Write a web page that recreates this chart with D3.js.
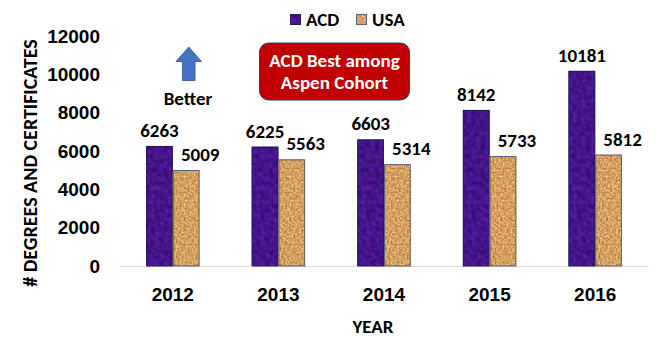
<!DOCTYPE html>
<html>
<head>
<meta charset="utf-8">
<script src="https://cdn.jsdelivr.net/npm/d3@7"></script>
<style>
  body { margin: 0; background: #fff; }
  svg { display: block; font-family: Carlito, "Open Sans", sans-serif; font-weight: 700; }
</style>
</head>
<body>
<svg id="chart"></svg>
<script>
// data
const years = ["2012", "2013", "2014", "2015", "2016"];
const seriesNames = ["ACD", "USA"];
const acd = [6263, 6225, 6603, 8142, 10181];
const usa = [5009, 5563, 5314, 5733, 5812];
const yTicks = [0, 2000, 4000, 6000, 8000, 10000, 12000];

const width = 662, height = 337;
const fontSize = 19;

const svg = d3.select("#chart")
  .attr("width", width)
  .attr("height", height);

// textures for the bars (purple fabric and cork)
const defs = svg.append("defs");
function texture(id, freq, rows) {
  const f = defs.append("filter")
    .attr("id", id)
    .attr("x", 0).attr("y", 0).attr("width", 1).attr("height", 1)
    .attr("color-interpolation-filters", "sRGB");
  f.append("feTurbulence")
    .attr("type", "fractalNoise")
    .attr("baseFrequency", freq)
    .attr("numOctaves", 3)
    .attr("seed", 3)
    .attr("result", "noise");
  f.append("feColorMatrix")
    .attr("in", "noise")
    .attr("type", "matrix")
    .attr("values", rows)
    .attr("result", "col");
  f.append("feComposite")
    .attr("in", "col")
    .attr("in2", "SourceGraphic")
    .attr("operator", "in");
}
texture("tex-acd", 0.22,
  "0.28 0 0 0 0.13  0.1 0 0 0 0.03  0.36 0 0 0 0.36  0 0 0 0 1");
texture("tex-usa", 0.5,
  "0.55 0 0 0 0.56  0.6 0 0 0 0.33  0.5 0 0 0 0.13  0 0 0 0 1");

const fills = { ACD: "url(#tex-acd)", USA: "url(#tex-usa)" };
const strokes = { ACD: "#1c1f5c", USA: "#59607c" };

// scales
const x = d3.scaleBand()
  .domain(years)
  .range([120, 648])
  .paddingInner(0.494)
  .paddingOuter(0.247);

const xs = d3.scaleBand()
  .domain(seriesNames)
  .range([0, x.bandwidth()]);

const y = d3.scaleLinear()
  .domain([0, 12000])
  .range([266, 36]);

// y axis (labels only)
const yAxis = svg.append("g")
  .attr("transform", "translate(120,0)")
  .call(d3.axisLeft(y).tickValues(yTicks).tickSize(0).tickPadding(20).tickFormat(d3.format("d")));
yAxis.select(".domain").remove();
yAxis.selectAll("text")
  .attr("font-size", fontSize)
  .attr("font-family", null)
  .attr("fill", "#000");

// x axis with light baseline
const xAxis = svg.append("g")
  .attr("transform", "translate(0,266)")
  .call(d3.axisBottom(x).tickSize(0).tickSizeOuter(0).tickPadding(22));
xAxis.select(".domain").attr("stroke", "#d9d9d9");
xAxis.selectAll("text")
  .attr("font-size", fontSize)
  .attr("font-family", null)
  .attr("fill", "#000");

// bars
const rows = years.map((yr, i) => ({ year: yr, ACD: acd[i], USA: usa[i] }));

const groups = svg.append("g")
  .selectAll("g")
  .data(rows)
  .join("g")
  .attr("transform", d => `translate(${x(d.year)},0)`);

seriesNames.forEach(s => {
  groups.append("rect")
    .attr("x", xs(s))
    .attr("y", d => y(d[s]))
    .attr("width", xs.bandwidth())
    .attr("height", d => y(0) - y(d[s]))
    .attr("fill", "#000")
    .attr("filter", fills[s]);
  groups.append("rect")
    .attr("x", xs(s) + 0.5)
    .attr("y", d => y(d[s]) + 0.5)
    .attr("width", xs.bandwidth() - 1)
    .attr("height", d => y(0) - y(d[s]) - 0.5)
    .attr("fill", "none")
    .attr("stroke", strokes[s])
    .attr("stroke-width", 1);
  // value labels (USA ones sit a little to the right in the original)
  groups.append("text")
    .attr("x", xs(s) + xs.bandwidth() / 2 + (s === "USA" ? 14 : 0))
    .attr("y", d => y(d[s]) - 9)
    .attr("text-anchor", "middle")
    .attr("font-size", fontSize)
    .text(d => d[s]);
});

// legend
const legend = svg.append("g").attr("transform", "translate(290,14)");
const legendX = { ACD: 0, USA: 66 };
seriesNames.forEach(s => {
  const g = legend.append("g").attr("transform", `translate(${legendX[s]},0)`);
  g.append("rect").attr("width", 11).attr("height", 11).attr("fill", "#000").attr("filter", fills[s]);
  g.append("rect").attr("x", 0.5).attr("y", 0.5).attr("width", 10).attr("height", 10)
    .attr("fill", "none").attr("stroke", strokes[s]);
  g.append("text").attr("x", 16).attr("y", 12).attr("font-size", fontSize).text(s);
});

// axis titles
svg.append("text")
  .attr("transform", "translate(36.5,163) rotate(-90)")
  .attr("text-anchor", "middle")
  .attr("font-size", 20)
  .text("# DEGREES AND CERTIFICATES");

svg.append("text")
  .attr("x", 373)
  .attr("y", 333)
  .attr("text-anchor", "middle")
  .attr("font-size", fontSize)
  .text("YEAR");

// "Better" arrow
svg.append("path")
  .attr("d", "M188.8,47 L201.5,61.5 L195,61.5 L195,80.5 L182.5,80.5 L182.5,61.5 L176,61.5 Z")
  .attr("fill", "#4472c4")
  .attr("stroke", "#2f528f")
  .attr("stroke-width", 0.8);
svg.append("text")
  .attr("x", 188)
  .attr("y", 105)
  .attr("text-anchor", "middle")
  .attr("font-size", fontSize)
  .text("Better");

// callout box
svg.append("rect")
  .attr("x", 259.5).attr("y", 43)
  .attr("width", 150).attr("height", 57)
  .attr("rx", 9)
  .attr("fill", "#c00000")
  .attr("stroke", "#2f3f6f")
  .attr("stroke-width", 1);
svg.append("text")
  .attr("x", 334.5).attr("y", 67)
  .attr("text-anchor", "middle")
  .attr("fill", "#fff")
  .attr("font-size", fontSize)
  .text("ACD Best among");
svg.append("text")
  .attr("x", 334.5).attr("y", 89)
  .attr("text-anchor", "middle")
  .attr("fill", "#fff")
  .attr("font-size", fontSize)
  .text("Aspen Cohort");
</script>
</body>
</html>
